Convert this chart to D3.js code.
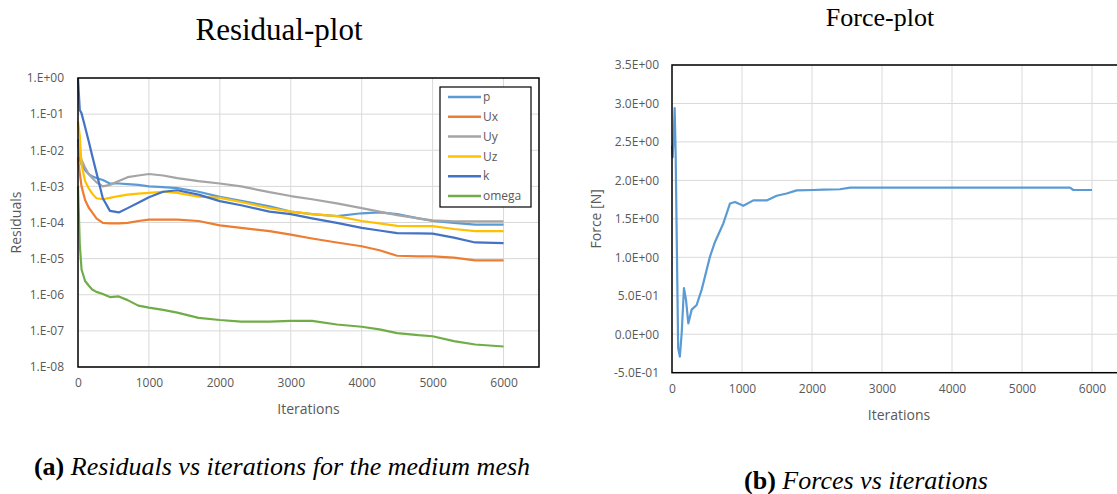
<!DOCTYPE html>
<html>
<head>
<meta charset="utf-8">
<script src="https://cdn.jsdelivr.net/npm/d3@7"></script>
<style>
  html, body { margin: 0; padding: 0; background: #fff; }
  svg { display: block; }
</style>
</head>
<body>
<svg id="fig" width="1117" height="494"></svg>
<script>
// ---- Residual history (medium mesh) ----
const resIterations = [0, 25, 50, 100, 150, 200, 260, 350, 450, 575, 700, 850, 1000, 1200, 1400, 1700, 2000, 2300, 2700, 3000, 3300, 3650, 4000, 4250, 4500, 4800, 5000, 5300, 5600, 6000];
const resP     = [2.0e-2, 5.4e-3, 4.0e-3, 2.8e-3, 2.2e-3, 1.9e-3, 1.7e-3, 1.5e-3, 1.2e-3, 1.2e-3, 1.15e-3, 1.1e-3, 1.0e-3, 9.5e-4, 8.9e-4, 7.1e-4, 5.1e-4, 4.0e-4, 2.8e-4, 2.0e-4, 1.7e-4, 1.5e-4, 1.8e-4, 1.9e-4, 1.7e-4, 1.3e-4, 1.1e-4, 9.8e-5, 8.7e-5, 8.7e-5];
const resUx    = [6.3e-3, 2.3e-3, 1.0e-3, 4.2e-4, 2.6e-4, 1.9e-4, 1.3e-4, 9.8e-5, 9.5e-5, 9.5e-5, 9.8e-5, 1.1e-4, 1.2e-4, 1.2e-4, 1.2e-4, 1.1e-4, 8.3e-5, 7.1e-5, 5.8e-5, 4.6e-5, 3.6e-5, 2.8e-5, 2.2e-5, 1.7e-5, 1.2e-5, 1.15e-5, 1.15e-5, 1.07e-5, 8.9e-6, 8.9e-6];
const resUy    = [1.6e-2, 7.9e-3, 5.4e-3, 3.3e-3, 2.2e-3, 1.7e-3, 1.3e-3, 1.0e-3, 1.1e-3, 1.4e-3, 1.8e-3, 2.0e-3, 2.2e-3, 2.0e-3, 1.7e-3, 1.4e-3, 1.2e-3, 1.0e-3, 6.9e-4, 5.4e-4, 4.4e-4, 3.4e-4, 2.5e-4, 2.0e-4, 1.6e-4, 1.3e-4, 1.15e-4, 1.07e-4, 1.07e-4, 1.07e-4];
const resUz    = [6.3e-2, 2.5e-2, 4.0e-3, 1.4e-3, 8.9e-4, 6.3e-4, 4.7e-4, 4.4e-4, 4.8e-4, 5.4e-4, 5.9e-4, 6.3e-4, 6.6e-4, 7.1e-4, 6.6e-4, 5.2e-4, 4.8e-4, 3.7e-4, 2.5e-4, 2.0e-4, 1.7e-4, 1.5e-4, 1.1e-4, 9.5e-5, 8.1e-5, 7.9e-5, 7.9e-5, 6.6e-5, 5.8e-5, 5.8e-5];
const resK     = [1.0e0, 1.3e-1, 1.05e-1, 4.4e-2, 1.8e-2, 7.1e-3, 2.4e-3, 4.7e-4, 2.1e-4, 1.9e-4, 2.5e-4, 3.5e-4, 5.0e-4, 7.1e-4, 7.8e-4, 5.9e-4, 3.9e-4, 3.0e-4, 2.0e-4, 1.7e-4, 1.3e-4, 9.8e-5, 7.1e-5, 6.0e-5, 5.1e-5, 5.0e-5, 4.9e-5, 3.8e-5, 2.8e-5, 2.7e-5];
const resOmega = [1.0e-3, 2.5e-5, 5.0e-6, 2.4e-6, 1.8e-6, 1.4e-6, 1.2e-6, 1.05e-6, 8.6e-7, 9.0e-7, 7.1e-7, 5.0e-7, 4.4e-7, 3.8e-7, 3.2e-7, 2.3e-7, 2.0e-7, 1.8e-7, 1.8e-7, 1.9e-7, 1.9e-7, 1.5e-7, 1.3e-7, 1.1e-7, 8.7e-8, 7.6e-8, 7.1e-8, 5.2e-8, 4.2e-8, 3.7e-8];

const resNames  = ["p", "Ux", "Uy", "Uz", "k", "omega"];
const resColors = ["#5B9BD5", "#ED7D31", "#A5A5A5", "#FFC000", "#4472C4", "#70AD47"];
const resSeries = [resP, resUx, resUy, resUz, resK, resOmega];

const resYTicks = [1e0, 1e-1, 1e-2, 1e-3, 1e-4, 1e-5, 1e-6, 1e-7, 1e-8];
const resYTickLabels = ["1.E+00", "1.E-01", "1.E-02", "1.E-03", "1.E-04", "1.E-05", "1.E-06", "1.E-07", "1.E-08"];
const iterTicks = [0, 1000, 2000, 3000, 4000, 5000, 6000];

// ---- Force history ----
const forceIterations = [0, 10, 25, 38, 52, 88, 112, 138, 171, 200, 233, 281, 352, 424, 543, 614, 733, 829, 900, 1019, 1162, 1352, 1495, 1638, 1781, 2019, 2162, 2400, 2543, 5686, 5733, 6000];
const forceValues     = [2.45, 2.3, 2.6, 2.94, 2.35, -0.18, -0.29, 0.01, 0.60, 0.45, 0.14, 0.32, 0.38, 0.58, 1.01, 1.20, 1.44, 1.70, 1.72, 1.67, 1.74, 1.74, 1.80, 1.83, 1.87, 1.875, 1.88, 1.885, 1.905, 1.905, 1.875, 1.875];
const forceYTicks = [-0.5, 0, 0.5, 1.0, 1.5, 2.0, 2.5, 3.0, 3.5];
const forceYTickLabels = ["-5.0E-01", "0.0E+00", "5.0E-01", "1.0E+00", "1.5E+00", "2.0E+00", "2.5E+00", "3.0E+00", "3.5E+00"];

const svg = d3.select("#fig");
const tickFont = "'Open Sans', 'DejaVu Sans', sans-serif";
const serif = "'Liberation Serif', 'Times New Roman', serif";
const gridColor = "#d9d9d9";
const textColor = "#595959";

// ================= Residual plot =================
{
  const L = 78, R = 539, T = 78, B = 367;
  const x = d3.scaleLinear().domain([0, 6500]).range([L, R]);
  const y = d3.scaleLog().domain([1e-8, 1]).range([B, T]);

  const g = svg.append("g");

  // grid
  g.append("g").selectAll("line.v").data(iterTicks.slice(1)).join("line")
    .attr("x1", d => x(d)).attr("x2", d => x(d)).attr("y1", T).attr("y2", B)
    .attr("stroke", gridColor).attr("stroke-width", 1);
  g.append("g").selectAll("line.h").data(resYTicks.slice(1)).join("line")
    .attr("x1", L).attr("x2", R).attr("y1", d => y(d)).attr("y2", d => y(d))
    .attr("stroke", gridColor).attr("stroke-width", 1);

  // axes (labels only, Excel-style)
  const yAxis = d3.axisLeft(y).tickValues(resYTicks)
    .tickFormat((d, i) => resYTickLabels[i]).tickSize(0).tickPadding(14);
  g.append("g").attr("transform", `translate(${L},0)`).call(yAxis)
    .call(a => a.select(".domain").remove())
    .selectAll("text").attr("font-family", tickFont).attr("font-size", 12).attr("fill", textColor);

  const xAxis = d3.axisBottom(x).tickValues(iterTicks).tickFormat(d3.format("d")).tickSize(0).tickPadding(11);
  g.append("g").attr("transform", `translate(0,${B})`).call(xAxis)
    .call(a => a.select(".domain").remove())
    .selectAll("text").attr("font-family", tickFont).attr("font-size", 12).attr("fill", textColor);

  // series
  const line = d3.line().x((d, i) => x(resIterations[i])).y(d => y(d));
  g.append("g").attr("fill", "none").attr("stroke-width", 2.2).attr("stroke-linejoin", "round")
    .selectAll("path").data(resSeries).join("path")
    .attr("stroke", (d, i) => resColors[i])
    .attr("d", line);

  // frame
  g.append("rect").attr("x", L).attr("y", T).attr("width", R - L).attr("height", B - T)
    .attr("fill", "none").attr("stroke", "#000").attr("stroke-width", 1.5);

  // legend
  const lg = g.append("g").attr("transform", "translate(440,87)");
  lg.append("rect").attr("width", 91).attr("height", 120).attr("fill", "#fff")
    .attr("stroke", "#000").attr("stroke-width", 1.2);
  const item = lg.selectAll("g.item").data(resNames).join("g")
    .attr("transform", (d, i) => `translate(0,${10 + i * 19.8})`);
  item.append("line").attr("x1", 8).attr("x2", 41).attr("y1", 0).attr("y2", 0)
    .attr("stroke", (d, i) => resColors[i]).attr("stroke-width", 2.5);
  item.append("text").attr("x", 43).attr("y", 0).attr("dy", "0.35em")
    .attr("font-family", tickFont).attr("font-size", 12).attr("fill", textColor)
    .text(d => d);

  // titles
  g.append("text").attr("x", (L + R) / 2).attr("y", 414).attr("text-anchor", "middle")
    .attr("font-family", tickFont).attr("font-size", 14).attr("fill", textColor).text("Iterations");
  g.append("text").attr("transform", `translate(21,${(T + B) / 2}) rotate(-90)`).attr("text-anchor", "middle")
    .attr("font-family", tickFont).attr("font-size", 14).attr("fill", textColor).text("Residuals");
  g.append("text").attr("x", 279).attr("y", 40).attr("text-anchor", "middle")
    .attr("font-family", serif).attr("font-size", 31).attr("fill", "#000").text("Residual-plot");
}

// ================= Force plot =================
{
  const L = 672, R = 1162, T = 65, B = 372.7;
  const x = d3.scaleLinear().domain([0, 7000]).range([L, R]);
  const y = d3.scaleLinear().domain([-0.5, 3.5]).range([B, T]);

  const g = svg.append("g");

  g.append("g").selectAll("line").data(iterTicks.slice(1)).join("line")
    .attr("x1", d => x(d)).attr("x2", d => x(d)).attr("y1", T).attr("y2", B)
    .attr("stroke", gridColor).attr("stroke-width", 1);
  g.append("g").selectAll("line").data(forceYTicks.slice(1)).join("line")
    .attr("x1", L).attr("x2", R).attr("y1", d => y(d)).attr("y2", d => y(d))
    .attr("stroke", gridColor).attr("stroke-width", 1);

  const yAxis = d3.axisLeft(y).tickValues(forceYTicks)
    .tickFormat((d, i) => forceYTickLabels[i]).tickSize(0).tickPadding(13);
  g.append("g").attr("transform", `translate(${L},0)`).call(yAxis)
    .call(a => a.select(".domain").remove())
    .selectAll("text").attr("font-family", tickFont).attr("font-size", 12).attr("fill", textColor);

  const xAxis = d3.axisBottom(x).tickValues(iterTicks).tickFormat(d3.format("d")).tickSize(0).tickPadding(12);
  g.append("g").attr("transform", `translate(0,${B})`).call(xAxis)
    .call(a => a.select(".domain").remove())
    .selectAll("text").attr("font-family", tickFont).attr("font-size", 12).attr("fill", textColor);

  const line = d3.line().x((d, i) => x(forceIterations[i])).y(d => y(d));
  g.append("path").datum(forceValues).attr("fill", "none").attr("stroke", "#5B9BD5")
    .attr("stroke-width", 2.2).attr("stroke-linejoin", "round").attr("d", line);

  g.append("rect").attr("x", L).attr("y", T).attr("width", R - L).attr("height", B - T)
    .attr("fill", "none").attr("stroke", "#000").attr("stroke-width", 1.5);

  g.append("text").attr("x", 899).attr("y", 420).attr("text-anchor", "middle")
    .attr("font-family", tickFont).attr("font-size", 14).attr("fill", textColor).text("Iterations");
  g.append("text").attr("transform", `translate(601,${(T + B) / 2}) rotate(-90)`).attr("text-anchor", "middle")
    .attr("font-family", tickFont).attr("font-size", 14).attr("fill", textColor).text("Force [N]");
  g.append("text").attr("x", 880).attr("y", 26).attr("text-anchor", "middle")
    .attr("font-family", serif).attr("font-size", 26).attr("fill", "#000").text("Force-plot");
}

// ================= Captions =================
function caption(cx, cy, tag, rest) {
  const t = svg.append("text").attr("x", cx).attr("y", cy).attr("text-anchor", "middle")
    .attr("font-family", serif).attr("font-size", 26).attr("fill", "#000");
  t.append("tspan").attr("font-weight", "bold").text(tag);
  t.append("tspan").attr("font-style", "italic").text(" " + rest);
}
caption(282, 475, "(a)", "Residuals vs iterations for the medium mesh");
caption(866, 489, "(b)", "Forces vs iterations");
</script>
</body>
</html>
